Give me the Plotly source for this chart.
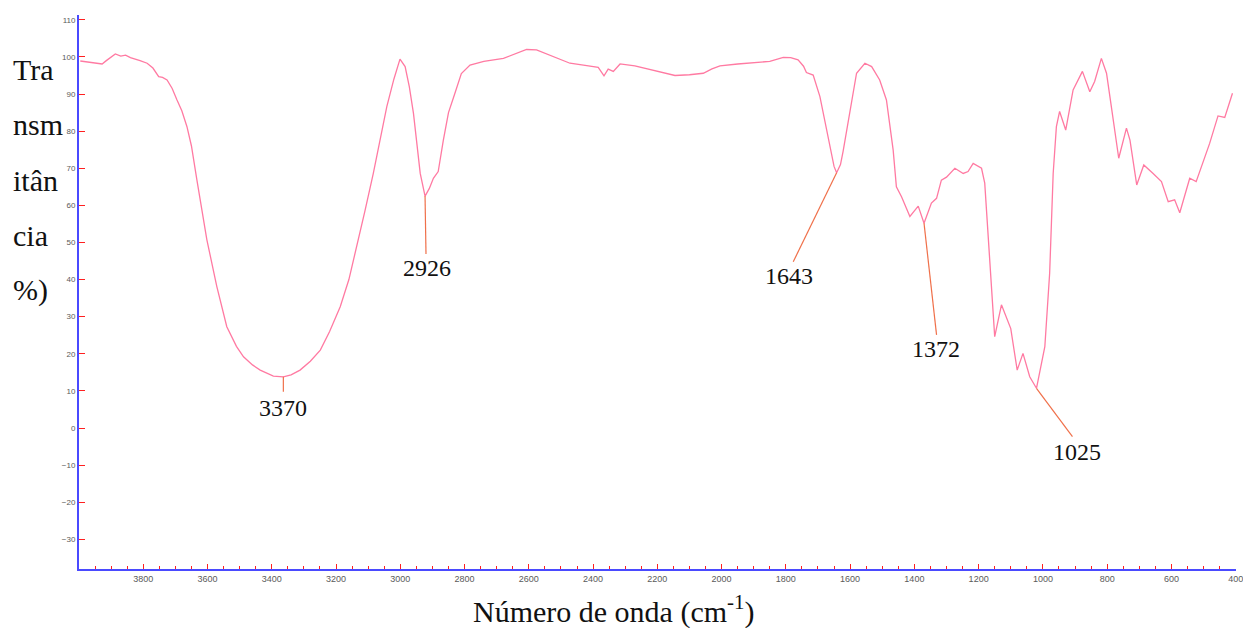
import plotly.graph_objects as go

# ---- data ----
wavenumber = [3996, 3960, 3928, 3915, 3887, 3870, 3855, 3840, 3830, 3810, 3788, 3770, 3752, 3740, 3726,
              3710, 3695, 3680, 3664, 3650, 3633, 3602, 3571, 3540, 3510, 3488, 3460, 3436, 3395, 3364,
              3340, 3312, 3280, 3249, 3220, 3187, 3160, 3135, 3110, 3084, 3060, 3042, 3020, 3001, 2985,
              2972, 2959, 2945, 2938, 2923, 2910, 2897, 2882, 2866, 2850, 2830, 2810, 2783, 2740, 2679,
              2640, 2607, 2576, 2530, 2472, 2430, 2399, 2384, 2366, 2353, 2337, 2316, 2270, 2213, 2145,
              2100, 2057, 2030, 2005, 1950, 1902, 1850, 1808, 1785, 1762, 1745, 1736, 1715, 1694, 1668,
              1650, 1642, 1630, 1622, 1601, 1580, 1554, 1533, 1508, 1487, 1466, 1456, 1440, 1414, 1400,
              1388, 1370, 1347, 1331, 1316, 1300, 1274, 1248, 1233, 1217, 1191, 1181, 1166, 1150, 1129,
              1100, 1080, 1062, 1041, 1020, 994, 979, 968, 958, 948, 929, 906, 877, 854, 839,
              818, 802, 787, 764, 740, 729, 708, 686, 657, 631, 610, 590, 574, 543, 523,
              502, 481, 455, 434, 410]
transmittance = [98.9, 98.5, 98.1, 99.0, 100.8, 100.2, 100.5, 99.8, 99.6, 99.0, 98.3, 97.0, 94.7, 94.5, 93.8,
                 91.5, 88.4, 85.5, 81.2, 76.0, 66.8, 50.7, 38.1, 27.3, 22.0, 19.2, 17.0, 15.6, 14.0, 13.8,
                 14.3, 15.6, 18.0, 21.0, 26.0, 32.7, 40.0, 48.9, 58.5, 68.6, 78.5, 86.6, 94.0, 99.4, 97.4,
                 92.0, 84.8, 74.0, 68.6, 62.5, 64.5, 67.3, 69.1, 77.6, 85.0, 90.2, 95.5, 97.8, 98.8, 99.6,
                 101.0, 102.0, 101.9, 100.4, 98.3, 97.8, 97.4, 97.2, 94.9, 96.7, 96.1, 98.1, 97.6, 96.5, 95.0,
                 95.2, 95.6, 96.8, 97.6, 98.1, 98.5, 98.8, 99.9, 99.8, 99.2, 97.5, 95.8, 95.1, 89.3, 77.6,
                 70.5, 68.8, 71.0, 74.5, 84.5, 95.6, 98.3, 97.4, 93.8, 88.4, 74.9, 65.0, 62.3, 57.0, 58.5,
                 59.8, 55.2, 60.6, 61.9, 66.8, 67.6, 70.0, 68.6, 69.1, 71.3, 70.0, 66.0, 46.2, 24.6, 33.2,
                 26.8, 15.6, 20.1, 13.8, 10.7, 21.9, 41.7, 68.6, 81.2, 85.3, 80.3, 91.1, 96.1, 90.6, 93.4,
                 99.6, 95.6, 86.6, 72.7, 80.8, 77.6, 65.5, 70.9, 68.6, 66.4, 61.0, 61.5, 58.0, 67.3, 66.4,
                 71.3, 76.7, 84.1, 83.7, 90.2]

x_tick_values = [3800, 3600, 3400, 3200, 3000, 2800, 2600, 2400, 2200, 2000, 1800, 1600, 1400, 1200, 1000, 800, 600, 400]
y_tick_values = [-30, -20, -10, 0, 10, 20, 30, 40, 50, 60, 70, 80, 90, 100, 110]

# peak labels: label text, peak wavenumber in series, line end (wn, T), text position (wn, T)
peak_labels = ["3370", "2926", "1643", "1372", "1025"]
peak_wn = [3364, 2923, 1642, 1370, 1020]
line_end_wn = [3364, 2920, 1777, 1331, 908]
line_end_t = [9.8, 46.9, 44.8, 25.1, -2.3]
text_wn = [3364, 2917, 1791, 1333, 895]
text_t = [5.4, 43.1, 41.0, 21.3, -6.5]

y_title_lines = ["Tra", "nsm", "itân", "cia", "%)"]

# ---- layout geometry ----
W, H = 1243, 628
ML, MR, MT, MB = 79, 7, 15, 59
PW, PH = W - ML - MR, H - MT - MB


def px_to_paper(px, py):
    return (px - ML) / PW, 1 - (py - MT) / PH


fig = go.Figure()
fig.add_trace(go.Scatter(x=wavenumber, y=transmittance, mode="lines",
                         line=dict(color="#ff7aa2", width=1.3), hoverinfo="skip", showlegend=False))

shapes = []
annotations = []
for lab, pw, lx, ly, tx, ty in zip(peak_labels, peak_wn, line_end_wn, line_end_t, text_wn, text_t):
    i = wavenumber.index(pw)
    shapes.append(dict(type="line", xref="x", yref="y", x0=wavenumber[i], y0=transmittance[i],
                       x1=lx, y1=ly, line=dict(color="#f0704a", width=1.2)))
    annotations.append(dict(x=tx, y=ty, xref="x", yref="y", text=lab, showarrow=False,
                            font=dict(family="Liberation Serif", size=24, color="#111"),
                            xanchor="center", yanchor="middle"))

for k, t in enumerate(y_title_lines):
    xp, yp = px_to_paper(11, 70 + k * 55)
    annotations.append(dict(x=xp, y=yp, xref="paper", yref="paper", text=t, showarrow=False,
                            xanchor="left", yanchor="middle",
                            font=dict(family="Liberation Serif", size=30, color="#111")))

xp, yp = px_to_paper(614, 609)
annotations.append(dict(x=xp, y=yp, xref="paper", yref="paper",
                        text="Número de onda (cm<sup>-1</sup>)", showarrow=False,
                        xanchor="center", yanchor="middle",
                        font=dict(family="Liberation Serif", size=30, color="#111")))

fig.update_layout(
    width=W, height=H,
    margin=dict(l=ML, r=MR, t=MT, b=MB, autoexpand=False),
    paper_bgcolor="white", plot_bgcolor="white",
    shapes=shapes, annotations=annotations,
    xaxis=dict(range=[4000, 399], showgrid=False, zeroline=False, automargin=False,
               showline=True, linecolor="#4a4aff", linewidth=2,
               tickvals=x_tick_values, ticks="inside", ticklen=5, tickwidth=1.2, tickcolor="#ff2020",
               ticklabeloverflow="allow",
               tickfont=dict(family="Liberation Sans", size=9, color="#5a5a5a"),
               minor=dict(dtick=50, tick0=400, ticks="inside", ticklen=3, tickwidth=1.2, tickcolor="#ff2020")),
    yaxis=dict(range=[-38.0, 111.3], showgrid=False, zeroline=False, automargin=False,
               showline=True, linecolor="#4a4aff", linewidth=2,
               tickvals=y_tick_values, ticks="inside", ticklen=6, tickwidth=1.2, tickcolor="#ff2020",
               tickfont=dict(family="Liberation Sans", size=8, color="#5a5a5a")),
)

fig.write_html("out.html")
